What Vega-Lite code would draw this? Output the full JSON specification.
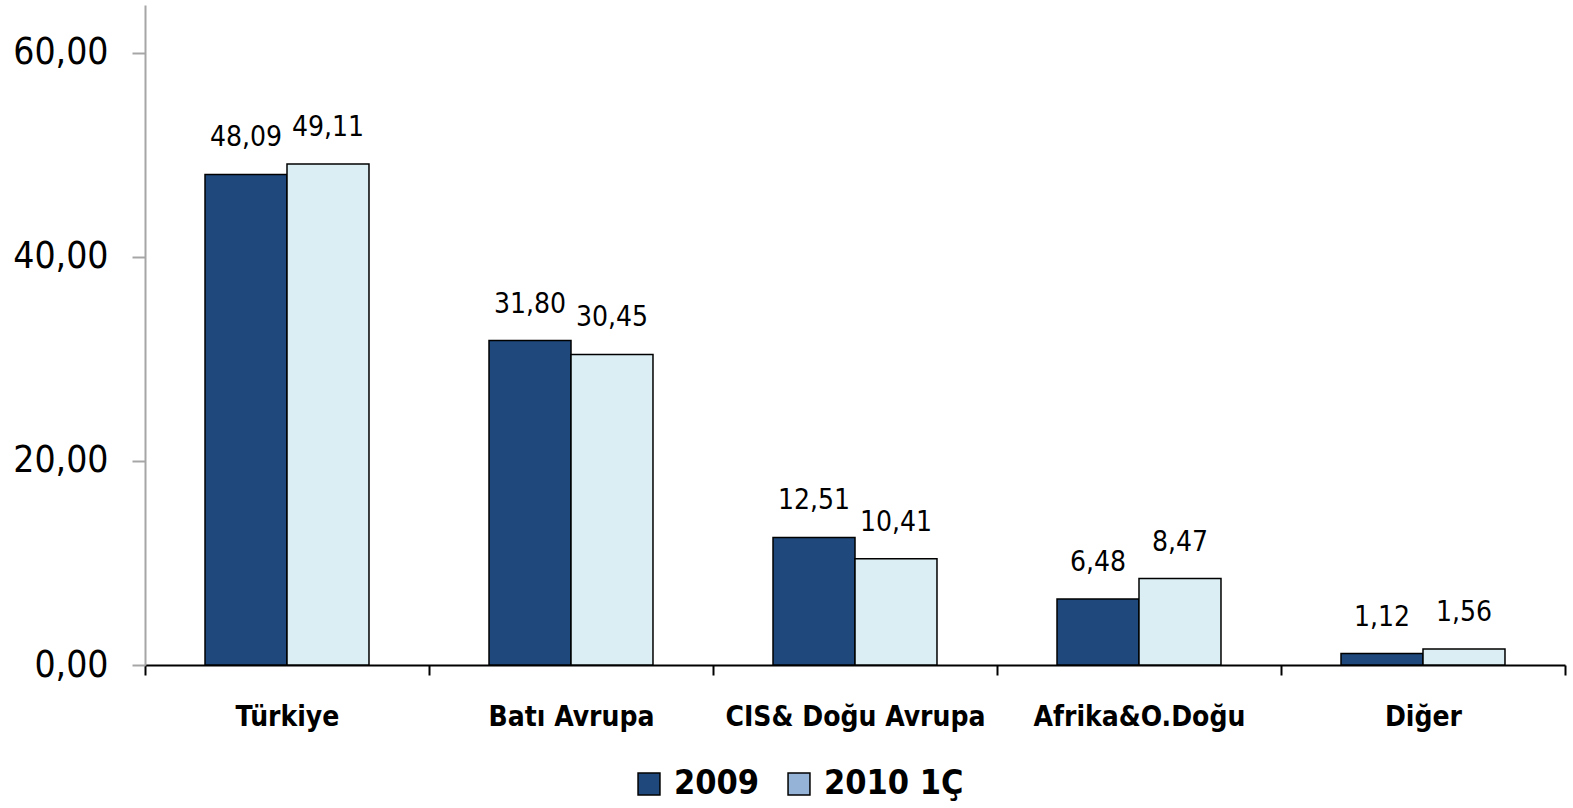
{
  "$schema": "https://vega.github.io/schema/vega-lite/v6.json",
  "autosize": "none",
  "width": 1420,
  "height": 660,
  "padding": {"left": 145, "top": 5, "right": 8, "bottom": 143},
  "background": "white",
  "config": {
    "locale": {"number": {"decimal": ",", "thousands": ".", "grouping": [3], "currency": ["", " TL"]}},
    "view": {"stroke": null},
    "font": "DejaVu Sans Condensed, DejaVu Sans"
  },
  "data": {"values": [
    {"region": "Türkiye", "period": "2009", "value": 48.09},
    {"region": "Türkiye", "period": "2010 1Ç", "value": 49.11},
    {"region": "Batı Avrupa", "period": "2009", "value": 31.80},
    {"region": "Batı Avrupa", "period": "2010 1Ç", "value": 30.45},
    {"region": "CIS& Doğu Avrupa", "period": "2009", "value": 12.51},
    {"region": "CIS& Doğu Avrupa", "period": "2010 1Ç", "value": 10.41},
    {"region": "Afrika&O.Doğu", "period": "2009", "value": 6.48},
    {"region": "Afrika&O.Doğu", "period": "2010 1Ç", "value": 8.47},
    {"region": "Diğer", "period": "2009", "value": 1.12},
    {"region": "Diğer", "period": "2010 1Ç", "value": 1.56}
  ]},
  "encoding": {
    "x": {
      "field": "region", "type": "nominal", "sort": null,
      "scale": {"paddingInner": 0, "paddingOuter": 0},
      "axis": {
        "title": null, "labelAngle": 0, "tickBand": "extent", "labelLimit": 0,
        "domainColor": "#000000", "domainWidth": 2,
        "tickColor": "#000000", "tickWidth": 2, "tickSize": 10,
        "labelFont": "DejaVu Sans Condensed, DejaVu Sans",
        "labelFontSize": 28, "labelFontWeight": "bold", "labelColor": "#000000",
        "labelPadding": 28
      }
    },
    "xOffset": {"field": "period", "type": "nominal", "scale": {"paddingInner": 0, "paddingOuter": 0.732}},
    "y": {
      "field": "value", "type": "quantitative",
      "scale": {"domain": [0, 64.7], "nice": false, "zero": true},
      "axis": {
        "title": null, "values": [0, 20, 40, 60], "format": ".2f", "grid": false,
        "domainColor": "#A6A6A6", "domainWidth": 2,
        "tickColor": "#A6A6A6", "tickWidth": 2, "tickSize": 13,
        "labelFont": "DejaVu Sans Condensed, DejaVu Sans",
        "labelFontSize": 37, "labelColor": "#000000", "labelPadding": 24
      }
    }
  },
  "layer": [
    {
      "mark": {"type": "square", "size": 0, "filled": true, "opacity": 1, "stroke": "#000000", "strokeWidth": 1.5},
      "encoding": {
        "color": {
          "field": "period", "type": "nominal",
          "scale": {"domain": ["2009", "2010 1Ç"], "range": ["#1F497D", "#95B3D7"]},
          "legend": {
            "title": null, "orient": "none", "direction": "horizontal",
            "legendX": 487, "legendY": 762,
            "symbolType": "square", "symbolSize": 480, "symbolOpacity": 1, "symbolStrokeColor": "#000000", "symbolStrokeWidth": 1.5,
            "labelFont": "DejaVu Sans Condensed, DejaVu Sans", "labelFontSize": 34, "labelFontWeight": "bold",
            "labelColor": "#000000", "columnPadding": 22, "labelOffset": 8
          }
        }
      }
    },
    {
      "mark": {"type": "bar", "stroke": "#000000", "strokeWidth": 1.5},
      "encoding": {
        "fill": {
          "field": "period", "type": "nominal",
          "scale": {"domain": ["2009", "2010 1Ç"], "range": ["#1F497D", "#DAEEF3"]},
          "legend": null
        }
      }
    },
    {
      "mark": {"type": "text", "baseline": "bottom", "dy": -22, "fontSize": 28, "color": "#000000", "font": "DejaVu Sans Condensed, DejaVu Sans"},
      "encoding": {
        "text": {"field": "value", "type": "quantitative", "format": ".2f"}
      }
    }
  ]
}
